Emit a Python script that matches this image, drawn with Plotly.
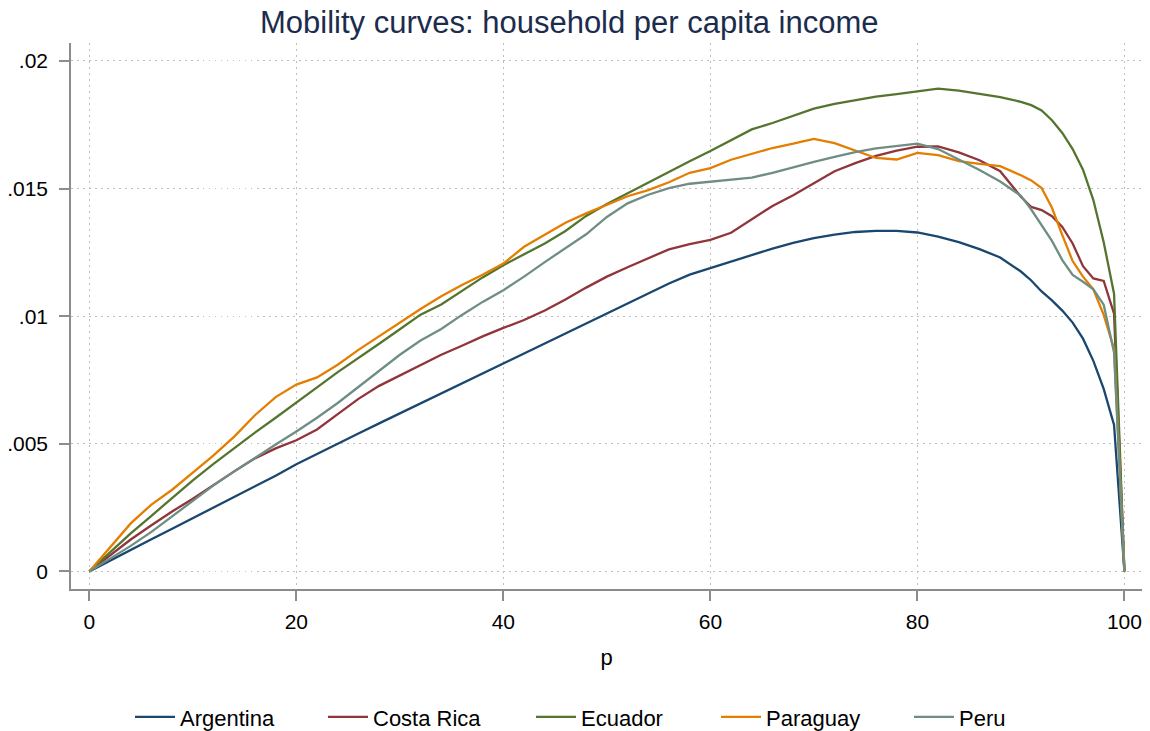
import plotly.graph_objects as go

# Percentile grid (p) and mobility-curve values for each country
p = [0, 2, 4, 6, 8, 10, 12, 14, 16, 18, 20, 22, 24, 26, 28, 30, 32, 34, 36, 38,
     40, 42, 44, 46, 48, 50, 52, 54, 56, 58, 60, 62, 64, 66, 68, 70, 72, 74, 76, 78,
     80, 82, 84, 86, 88, 90, 91, 92, 93, 94, 95, 96, 97, 98, 99, 100]

argentina = [0, 0.00043, 0.00085, 0.00126, 0.00167, 0.00208, 0.00249, 0.0029, 0.00332, 0.00375,
             0.0042, 0.00461, 0.00501, 0.0054, 0.0058, 0.00619, 0.00658, 0.00698, 0.00737, 0.00776,
             0.00814, 0.00852, 0.00893, 0.00932, 0.0097, 0.01008, 0.01047, 0.01088, 0.01128, 0.01163,
             0.01189, 0.01216, 0.01242, 0.01265, 0.01287, 0.01306, 0.0132, 0.0133, 0.01334, 0.01334,
             0.01328, 0.01312, 0.0129, 0.01263, 0.0123, 0.01175, 0.0114, 0.01097, 0.01062, 0.01022,
             0.00975, 0.00912, 0.00825, 0.00715, 0.00574, 0]

costa_rica = [0, 0.00063, 0.00125, 0.00181, 0.00235, 0.00285, 0.0034, 0.00392, 0.00443, 0.00482,
              0.00514, 0.00556, 0.00616, 0.00676, 0.00727, 0.00768, 0.00807, 0.00849, 0.00884, 0.00921,
              0.00954, 0.00985, 0.01022, 0.01065, 0.01112, 0.01155, 0.01192, 0.01228, 0.01262, 0.01282,
              0.01299, 0.01327, 0.01378, 0.01432, 0.01474, 0.01521, 0.01568, 0.016, 0.01628, 0.01649,
              0.01664, 0.01665, 0.01642, 0.01611, 0.01568, 0.01468, 0.01428, 0.01416, 0.01392, 0.0135,
              0.01285, 0.01196, 0.01148, 0.01138, 0.0101, 0]

ecuador = [0, 0.00076, 0.00149, 0.00218, 0.00288, 0.00357, 0.00421, 0.00483, 0.00544, 0.00602,
           0.0066, 0.00721, 0.00781, 0.00835, 0.00892, 0.00949, 0.01006, 0.01046, 0.01099, 0.01152,
           0.012, 0.01242, 0.01285, 0.01334, 0.01393, 0.0144, 0.01482, 0.01523, 0.01568, 0.01607,
           0.01647, 0.0169, 0.01732, 0.01757, 0.01785, 0.01813, 0.01832, 0.01845, 0.0186, 0.0187,
           0.01882, 0.01892, 0.01884, 0.01872, 0.01858, 0.0184, 0.01827, 0.01806, 0.01768, 0.01718,
           0.01655, 0.01574, 0.01455, 0.0129, 0.01088, 0]

paraguay = [0, 0.00095, 0.00188, 0.00262, 0.0032, 0.00387, 0.00455, 0.00528, 0.00612, 0.00683,
            0.00732, 0.0076, 0.0081, 0.00868, 0.00922, 0.00975, 0.01028, 0.01078, 0.01122, 0.01162,
            0.01206, 0.01272, 0.01318, 0.01366, 0.01403, 0.01436, 0.0147, 0.01494, 0.01525, 0.01562,
            0.0158, 0.01613, 0.01635, 0.01659, 0.01676, 0.01695, 0.01678, 0.01648, 0.0162, 0.01614,
            0.0164, 0.01631, 0.01608, 0.01597, 0.01588, 0.01552, 0.01532, 0.01502, 0.01425, 0.01318,
            0.01216, 0.01155, 0.01105, 0.01005, 0.00872, 0]

peru = [0, 0.0005, 0.001, 0.00155, 0.00215, 0.00278, 0.00337, 0.00392, 0.00446, 0.00497,
        0.00548, 0.00602, 0.0066, 0.00723, 0.00787, 0.00849, 0.00905, 0.0095, 0.01005, 0.01056,
        0.01102, 0.01155, 0.01212, 0.01267, 0.01321, 0.01389, 0.01442, 0.01476, 0.01502, 0.01519,
        0.01528, 0.01536, 0.01543, 0.01562, 0.01585, 0.01605, 0.01624, 0.01643, 0.01658, 0.01668,
        0.01676, 0.01655, 0.01614, 0.01573, 0.01528, 0.01472, 0.01418, 0.01355, 0.01295, 0.0122,
        0.01162, 0.01135, 0.01105, 0.01045, 0.00858, 0]

series_names = ["Argentina", "Costa Rica", "Ecuador", "Paraguay", "Peru"]
series_values = [argentina, costa_rica, ecuador, paraguay, peru]
series_colors = ["#1a476f", "#90353b", "#55752f", "#e37e00", "#6e8e84"]

x_ticks = [0, 20, 40, 60, 80, 100]
y_ticks = [0, 0.005, 0.01, 0.015, 0.02]
y_tick_labels = ["0", ".005", ".01", ".015", ".02"]

FONT = "Liberation Sans, Arial, sans-serif"
AXIS_GRAY = "#8c8c8c"
GRID_GRAY = "#bdbdbd"
W, H = 1150, 731

# left edge (px) of each legend entry along the bottom row
legend_left_px = [130, 323, 531, 716, 909]

fig = go.Figure()
legend_layout = {}
for i, (name, vals, col) in enumerate(zip(series_names, series_values, series_colors)):
    key = "legend" if i == 0 else f"legend{i + 1}"
    fig.add_trace(go.Scatter(
        x=p, y=vals, mode="lines", name=name,
        line=dict(color=col, width=2.3, shape="linear"),
        legend=key,
    ))
    legend_layout[key] = dict(
        orientation="h",
        xref="container", yref="container",
        x=legend_left_px[i] / W, xanchor="left",
        y=0.019, yanchor="middle",
        font=dict(family=FONT, size=22, color="black"),
        itemwidth=40,
        bgcolor="rgba(0,0,0,0)",
        borderwidth=0,
    )

fig.update_layout(
    width=W, height=H,
    paper_bgcolor="white", plot_bgcolor="white",
    margin=dict(l=71, r=8, t=43, b=142, autoexpand=False),
    font=dict(family=FONT, size=21, color="black"),
    title=dict(
        text="Mobility curves: household per capita income",
        font=dict(family=FONT, size=31, color="#1c2c4c"),
        x=0.495, xanchor="center", xref="container",
        y=0.97, yanchor="middle", yref="container",
    ),
    showlegend=True,
    **legend_layout,
)

fig.update_xaxes(
    range=[-1.77, 101.7],
    tickvals=x_ticks,
    ticks="outside", ticklen=10, tickwidth=1.5, tickcolor=AXIS_GRAY,
    ticklabelstandoff=3, automargin=False,
    showline=True, linecolor=AXIS_GRAY, linewidth=1.5,
    showgrid=True, gridcolor=GRID_GRAY, gridwidth=1, griddash="1.5px,4.5px",
    zeroline=False,
    tickfont=dict(family=FONT, size=21, color="black"),
    title=dict(text="p", font=dict(family=FONT, size=22, color="black"), standoff=18),
)
fig.update_yaxes(
    range=[-0.00069, 0.020705],
    tickvals=y_ticks, ticktext=y_tick_labels,
    ticks="outside", ticklen=10, tickwidth=1.5, tickcolor=AXIS_GRAY,
    ticklabelstandoff=7, automargin=False,
    showline=True, linecolor=AXIS_GRAY, linewidth=1.5,
    showgrid=True, gridcolor=GRID_GRAY, gridwidth=1, griddash="1.5px,4.5px",
    zeroline=False,
    tickfont=dict(family=FONT, size=21, color="black"),
)

fig.write_html("out.html")
